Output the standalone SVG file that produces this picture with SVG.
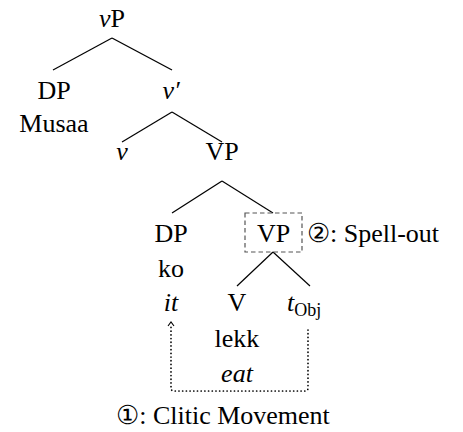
<svg xmlns="http://www.w3.org/2000/svg" width="463" height="432" viewBox="0 0 463 432">
<style>
.t{font-family:'Liberation Serif','Times New Roman','DejaVu Serif',serif;font-size:26px;fill:#000;text-anchor:middle}
.i{font-style:italic}
.l{text-anchor:start}
.e{stroke:#000;stroke-width:1.2;fill:none}
</style>
<rect width="463" height="432" fill="#fff"/>
<g id="connectors">
<line class="e" x1="112" y1="38" x2="53" y2="70"/>
<line class="e" x1="112" y1="38" x2="172" y2="70"/>
<line class="e" x1="172" y1="112" x2="122" y2="142"/>
<line class="e" x1="172" y1="112" x2="222" y2="142"/>
<line class="e" x1="222" y1="181" x2="172" y2="213"/>
<line class="e" x1="222" y1="181" x2="273" y2="213"/>
<line class="e" x1="273" y1="252" x2="237" y2="286"/>
<line class="e" x1="273" y1="252" x2="310" y2="286"/>
<path d="M308,330 L308,388 Q308,391 305,391 L174,391 Q171,391 171,388 L171,326" fill="none" stroke="#000" stroke-width="1.7" stroke-dasharray="0.1,3.6" stroke-linecap="round"/>
<path d="M168,326 L171,322 L174,326" fill="none" stroke="#000" stroke-width="1.1"/>
</g>
<g class="t">
<g id="vP"><text x="112" y="27"><tspan class="i">v</tspan>P</text></g>
<g id="DP-subj"><text x="54" y="99">DP</text><text x="54" y="132">Musaa</text></g>
<g id="vbar"><text x="171" y="99" class="i">v′</text></g>
<g id="v"><text x="122" y="160" class="i">v</text></g>
<g id="VP-top"><text x="222" y="160">VP</text></g>
<g id="DP-obj"><text x="171" y="242">DP</text><text x="171" y="277">ko</text><text x="171" y="311" class="i">it</text></g>
<g id="VP-spell"><rect x="245" y="213" width="57" height="39" fill="none" stroke="#555" stroke-width="1.2" stroke-dasharray="4.5,3"/><text x="273.5" y="242">VP</text><text x="307" y="242" class="l">②: Spell-out</text></g>
<g id="V"><text x="237" y="311">V</text><text x="237" y="347">lekk</text><text x="237" y="382" class="i">eat</text></g>
<g id="tObj"><text x="287" y="311" class="l"><tspan class="i">t</tspan><tspan font-size="18" dy="5">Obj</tspan></text></g>
<g id="label-movement"><text x="223" y="424">①: Clitic Movement</text></g>
</g>
</svg>
